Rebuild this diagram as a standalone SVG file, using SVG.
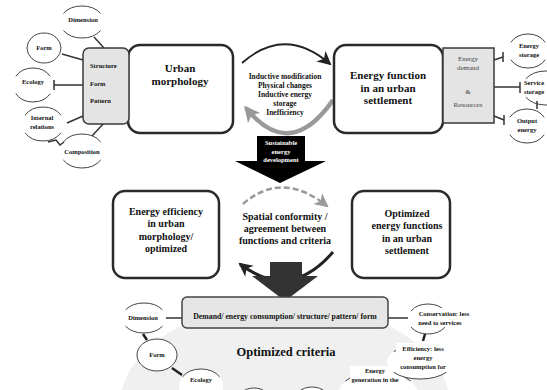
<svg xmlns="http://www.w3.org/2000/svg" width="547" height="390" viewBox="0 0 547 390">
<style>
text{font-family:"Liberation Serif","Times New Roman",serif;font-weight:bold;text-anchor:middle;fill:#111}
.s{font-size:6.5px}
.m{font-size:7.5px}
.b{font-size:10px}
.l{font-size:11px}
.g{font-weight:normal;fill:#444;font-size:7px}
.box{fill:#fff;stroke:#2a2a2a;stroke-width:2.5}
.gbox{fill:#e4e4e4;stroke:#3a3a3a;stroke-width:1.5}
.arc{fill:none;stroke:#444;stroke-width:1}
.warc{fill:#fff;stroke:#444;stroke-width:1}
.brk{stroke-dasharray:34 16;stroke-dashoffset:-8}
.ln{stroke:#333;stroke-width:1.5;fill:none}
.tk{stroke:#222;stroke-width:2.5;fill:none}
</style>
<defs>
<marker id="hb" markerUnits="userSpaceOnUse" markerWidth="16" markerHeight="14" refX="12" refY="7" orient="auto"><path d="M0,0 L14,7 L0,14 L4,7 z" fill="#222"/></marker>
<marker id="hg" markerUnits="userSpaceOnUse" markerWidth="18" markerHeight="16" refX="13" refY="8" orient="auto"><path d="M0,0 L16,8 L0,16 L4,8 z" fill="#999"/></marker>
<marker id="hd" markerUnits="userSpaceOnUse" markerWidth="16" markerHeight="14" refX="12" refY="7" orient="auto"><path d="M0,0 L14,7 L0,14 L4,7 z" fill="#9a9a9a"/></marker>
</defs>

<ellipse cx="285" cy="405" rx="165" ry="102" fill="#f0f0f0"/>

<g id="connectors">
  <line class="ln" x1="94" y1="37" x2="104" y2="48"/>
  <line class="ln" x1="62" y1="54" x2="83" y2="60"/>
  <line class="ln" x1="54" y1="85" x2="83" y2="85"/>
  <line class="ln" x1="54" y1="80" x2="54" y2="90"/>
  <line class="ln" x1="67" y1="123" x2="83" y2="116"/>
  <line class="ln" x1="92" y1="136" x2="104" y2="123"/>
  <path class="ln" d="M48 142 L56 140 L60 145 L64 142"/>
  <path class="ln" d="M494 60 L503 57"/>
  <line class="ln" x1="503" y1="52" x2="503" y2="62"/>
  <line class="ln" x1="494" y1="87" x2="520" y2="87"/>
  <line class="ln" x1="520" y1="82" x2="520" y2="93"/>
  <path class="ln" d="M494 116 L504 120"/>
  <line class="ln" x1="504" y1="115" x2="504" y2="125"/>
  <line class="ln" x1="537" y1="101" x2="537" y2="109"/>
  <path d="M242 63 Q285 25 330 64" fill="none" stroke="#222" stroke-width="1.8" marker-end="url(#hb)"/>
  <path d="M333 100 Q290 162 246 108" fill="none" stroke="#999" stroke-width="4.5" marker-end="url(#hg)"/>
  <path d="M243 204 Q282 170 327 206" fill="none" stroke="#9a9a9a" stroke-width="2.5" stroke-dasharray="6 3" marker-end="url(#hd)"/>
  <path d="M333 252 Q290 302 240 264" fill="none" stroke="#222" stroke-width="3" marker-end="url(#hb)"/>
  <line class="ln" x1="165" y1="318" x2="182" y2="318" stroke-width="2"/>
  <line class="ln" x1="388" y1="318" x2="408" y2="318" stroke-width="2"/>
  <line class="tk" x1="143" y1="334" x2="147" y2="340"/>
  <line class="tk" x1="172" y1="368" x2="182" y2="375"/>
  <line class="tk" x1="425" y1="334" x2="423" y2="341"/>
</g>

<g id="dimension-top"><ellipse class="arc brk" pathLength="100" cx="82" cy="22" rx="22" ry="16"/><text class="s" x="83" y="22">Dimension</text></g>
<g id="form-top"><ellipse class="arc" cx="44" cy="48" rx="17" ry="15"/><text class="s" x="44" y="50">Form</text></g>
<g id="ecology-top"><ellipse class="arc brk" pathLength="100" cx="33" cy="85" rx="20" ry="17"/><text class="s" x="33" y="84">Ecology</text></g>
<g id="internal-top"><ellipse class="arc brk" pathLength="100" cx="43" cy="124" rx="21" ry="17"/><text class="s" x="42" y="120">Internal</text><text class="s" x="42" y="129">relations</text></g>
<g id="composition-top"><ellipse class="arc brk" pathLength="100" cx="82" cy="151" rx="22" ry="17"/><text class="s" x="82" y="154">Composition</text></g>

<g id="urban-morphology"><rect class="box" x="128" y="45" width="105" height="88" rx="12"/><text class="l" x="180" y="72">Urban</text><text class="l" x="180" y="85">morphology</text></g>
<g id="structure-box"><rect class="gbox" x="83" y="48" width="46" height="76" rx="6"/><text class="s" x="90" y="68" style="text-anchor:start">Structure</text><text class="s" x="90" y="86" style="text-anchor:start">Form</text><text class="s" x="90" y="103" style="text-anchor:start">Pattern</text></g>

<g id="cycle-top-label">
<text class="m" x="285" y="79">Inductive modification</text>
<text class="m" x="285" y="88">Physical changes</text>
<text class="m" x="285" y="97">Inductive energy</text>
<text class="m" x="285" y="106">storage</text>
<text class="m" x="285" y="115">Inefficiency</text>
</g>

<g id="energy-function"><rect class="box" x="334" y="45" width="109" height="88" rx="12"/><text class="l" x="388" y="79">Energy function</text><text class="l" x="388" y="92">in an urban</text><text class="l" x="388" y="104">settlement</text></g>
<g id="energy-demand"><rect class="gbox" x="443" y="48" width="51" height="75"/>
<text class="g" x="468" y="61">Energy</text><text class="g" x="468" y="70">demand</text><text class="g" x="468" y="94">&amp;</text><text class="g" x="468" y="107">Resources</text></g>

<g id="energy-storage"><ellipse class="arc brk" pathLength="100" cx="528" cy="51" rx="20" ry="17"/><text class="s" x="529" y="48">Energy</text><text class="s" x="529" y="57">storage</text></g>
<g id="service-storage"><ellipse class="arc brk" pathLength="100" cx="546" cy="88" rx="24" ry="17"/><text class="s" x="534" y="85">Service</text><text class="s" x="534" y="94">storage</text></g>
<g id="output-energy"><ellipse class="arc brk" pathLength="100" cx="527" cy="126" rx="20" ry="17"/><text class="s" x="527" y="123">Output</text><text class="s" x="527" y="132">energy</text></g>

<g id="sustainable-arrow"><polygon points="257,136 305,136 305,161 326,161 280,183 235,161 257,161" fill="#000"/>
<text class="s" x="281" y="145" style="fill:#fff">Sustainable</text><text class="s" x="281" y="154" style="fill:#fff">energy</text><text class="s" x="281" y="162" style="fill:#fff">development</text></g>

<g id="energy-efficiency"><rect class="box" x="113" y="191" width="106" height="87" rx="12"/><text class="b" x="166" y="215">Energy efficiency</text><text class="b" x="166" y="227">in urban</text><text class="b" x="166" y="240">morphology/</text><text class="b" x="166" y="252">optimized</text></g>

<g id="spatial-conformity"><text class="b" x="285" y="220">Spatial conformity /</text><text class="b" x="285" y="232">agreement between</text><text class="b" x="285" y="244">functions and criteria</text></g>

<g id="optimized-functions"><rect class="box" x="352" y="191" width="98" height="87" rx="12"/><text class="b" x="407" y="217">Optimized</text><text class="b" x="407" y="229">energy functions</text><text class="b" x="407" y="242">in an urban</text><text class="b" x="407" y="254">settlement</text></g>

<g id="down-arrow"><polygon points="270,262 302,262 302,276 318,276 285,301 252,276 270,276" fill="#333"/></g>

<g id="demand-box"><rect x="182" y="297" width="206" height="31" rx="5" fill="#e6e6e6" stroke="#444" stroke-width="1.5"/><text x="285" y="319" style="font-size:7.8px">Demand/ energy consumption/ structure/ pattern/ form</text></g>

<text x="286" y="356" style="font-size:12.5px">Optimized criteria</text>

<g id="dimension-bottom"><ellipse class="warc brk" pathLength="100" cx="144" cy="318" rx="22" ry="15"/><rect x="124" y="312" width="40" height="11" fill="#fff"/><text class="s" x="143" y="320">Dimension</text></g>
<g id="form-bottom"><ellipse class="warc" cx="157" cy="355" rx="20" ry="16"/><text class="s" x="157" y="357">Form</text></g>
<g id="ecology-bottom"><ellipse class="warc brk" pathLength="100" cx="201" cy="386" rx="22" ry="17"/><text class="s" x="201" y="382">Ecology</text></g>
<g id="internal-bottom"><ellipse class="warc" cx="254" cy="405" rx="19" ry="17"/></g>
<g id="composition-bottom"><ellipse class="warc" cx="312" cy="405" rx="20" ry="18"/></g>
<g id="energy-generation"><ellipse class="warc brk" pathLength="100" cx="378" cy="395" rx="40" ry="24"/><rect x="350" y="366" width="52" height="24" fill="#fff"/><text class="s" x="375" y="373">Energy</text><text class="s" x="375" y="382">generation  in the</text></g>
<g id="conservation"><ellipse class="warc brk" pathLength="100" cx="428" cy="319" rx="20" ry="15"/><rect x="414" y="308" width="60" height="19" fill="#fff"/><text class="s" x="444" y="316">Conservation: less</text><text class="s" x="440" y="325">need to services</text></g>
<g id="efficiency"><ellipse class="warc brk" pathLength="100" cx="420" cy="362" rx="33" ry="17"/><rect x="396" y="343" width="54" height="28" fill="#fff"/><text class="s" x="423" y="351">Efficiency: less</text><text class="s" x="423" y="360">energy</text><text class="s" x="423" y="369">consumption for</text></g>
</svg>
